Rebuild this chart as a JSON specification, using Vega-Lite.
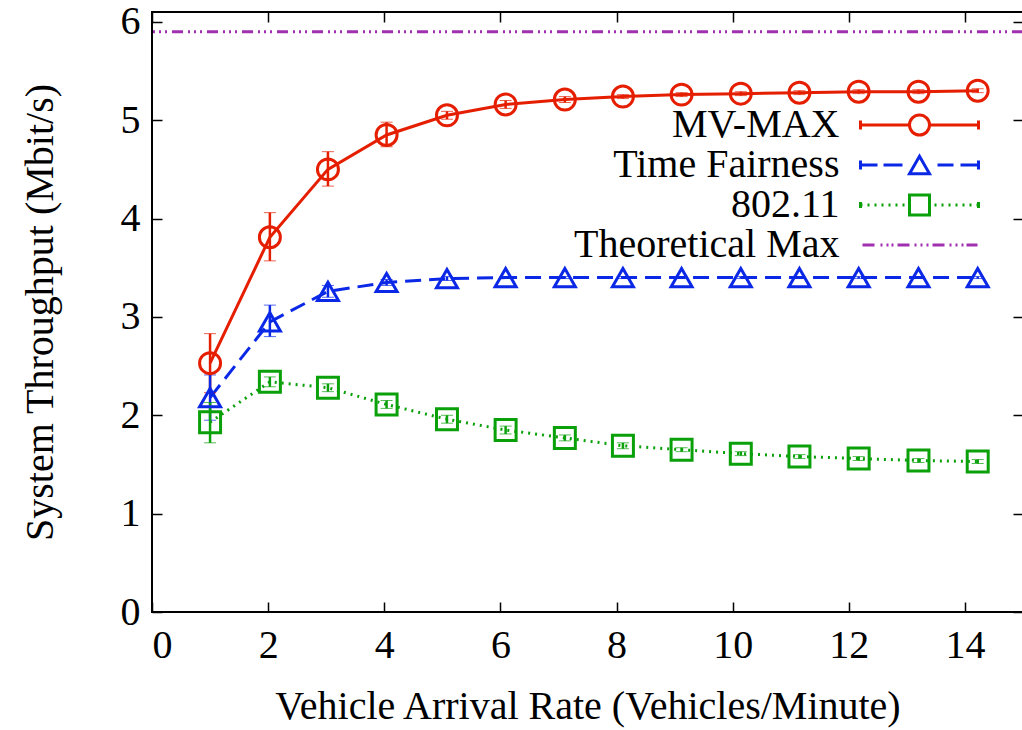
{
  "$schema": "https://vega.github.io/schema/vega-lite/v6.json",
  "width": 871,
  "height": 600,
  "autosize": "none",
  "padding": {"left": 152, "top": 12, "right": 0, "bottom": 118},
  "background": "white",
  "config": {
    "font": "Liberation Serif, Times New Roman, DejaVu Serif, serif",
    "view": {"stroke": "black", "strokeWidth": 2},
    "axis": {
      "domain": false,
      "grid": false,
      "ticks": true,
      "tickSize": -10,
      "tickColor": "black",
      "tickWidth": 1.5,
      "labelFont": "Liberation Serif, Times New Roman, DejaVu Serif, serif",
      "titleFont": "Liberation Serif, Times New Roman, DejaVu Serif, serif",
      "labelFontSize": 40,
      "labelColor": "black",
      "titleFontSize": 40,
      "titleFontWeight": "normal",
      "titleColor": "black"
    },
    "legend": {
      "labelFont": "Liberation Serif, Times New Roman, DejaVu Serif, serif"
    }
  },
  "datasets": {
    "curves": [
      {"series": "MV-MAX", "x": 1.0, "y": 2.53, "lo": 2.23, "hi": 2.83},
      {"series": "MV-MAX", "x": 2.03, "y": 3.81, "lo": 3.57, "hi": 4.06},
      {"series": "MV-MAX", "x": 3.03, "y": 4.5, "lo": 4.33, "hi": 4.68},
      {"series": "MV-MAX", "x": 4.04, "y": 4.85, "lo": 4.73, "hi": 4.98},
      {"series": "MV-MAX", "x": 5.08, "y": 5.05, "lo": 5.01, "hi": 5.09},
      {"series": "MV-MAX", "x": 6.09, "y": 5.16, "lo": 5.12, "hi": 5.2},
      {"series": "MV-MAX", "x": 7.11, "y": 5.21, "lo": 5.18, "hi": 5.24},
      {"series": "MV-MAX", "x": 8.11, "y": 5.24, "lo": 5.22, "hi": 5.26},
      {"series": "MV-MAX", "x": 9.12, "y": 5.26, "lo": 5.24, "hi": 5.28},
      {"series": "MV-MAX", "x": 10.14, "y": 5.27, "lo": 5.25, "hi": 5.29},
      {"series": "MV-MAX", "x": 11.15, "y": 5.28, "lo": 5.26, "hi": 5.3},
      {"series": "MV-MAX", "x": 12.17, "y": 5.29, "lo": 5.27, "hi": 5.31},
      {"series": "MV-MAX", "x": 13.2, "y": 5.29, "lo": 5.27, "hi": 5.31},
      {"series": "MV-MAX", "x": 14.22, "y": 5.3, "lo": 5.28, "hi": 5.32},
      {"series": "Time Fairness", "x": 1.0, "y": 2.18, "lo": 1.95, "hi": 2.41},
      {"series": "Time Fairness", "x": 2.03, "y": 2.95, "lo": 2.8, "hi": 3.12},
      {"series": "Time Fairness", "x": 3.03, "y": 3.26, "lo": 3.2, "hi": 3.32},
      {"series": "Time Fairness", "x": 4.04, "y": 3.35, "lo": 3.32, "hi": 3.38},
      {"series": "Time Fairness", "x": 5.08, "y": 3.39, "lo": 3.37, "hi": 3.41},
      {"series": "Time Fairness", "x": 6.09, "y": 3.4, "lo": 3.39, "hi": 3.41},
      {"series": "Time Fairness", "x": 7.11, "y": 3.4, "lo": 3.39, "hi": 3.41},
      {"series": "Time Fairness", "x": 8.11, "y": 3.4, "lo": 3.39, "hi": 3.41},
      {"series": "Time Fairness", "x": 9.12, "y": 3.4, "lo": 3.39, "hi": 3.41},
      {"series": "Time Fairness", "x": 10.14, "y": 3.4, "lo": 3.39, "hi": 3.41},
      {"series": "Time Fairness", "x": 11.15, "y": 3.4, "lo": 3.39, "hi": 3.41},
      {"series": "Time Fairness", "x": 12.17, "y": 3.4, "lo": 3.39, "hi": 3.41},
      {"series": "Time Fairness", "x": 13.2, "y": 3.4, "lo": 3.39, "hi": 3.41},
      {"series": "Time Fairness", "x": 14.22, "y": 3.4, "lo": 3.39, "hi": 3.41},
      {"series": "802.11", "x": 1.0, "y": 1.93, "lo": 1.72, "hi": 2.13},
      {"series": "802.11", "x": 2.03, "y": 2.34, "lo": 2.29, "hi": 2.39},
      {"series": "802.11", "x": 3.03, "y": 2.28, "lo": 2.24, "hi": 2.32},
      {"series": "802.11", "x": 4.04, "y": 2.11, "lo": 2.07, "hi": 2.15},
      {"series": "802.11", "x": 5.08, "y": 1.96, "lo": 1.92, "hi": 2.0},
      {"series": "802.11", "x": 6.09, "y": 1.85, "lo": 1.81, "hi": 1.89},
      {"series": "802.11", "x": 7.11, "y": 1.77, "lo": 1.74, "hi": 1.8},
      {"series": "802.11", "x": 8.11, "y": 1.69, "lo": 1.66, "hi": 1.72},
      {"series": "802.11", "x": 9.12, "y": 1.65, "lo": 1.63, "hi": 1.67},
      {"series": "802.11", "x": 10.14, "y": 1.61, "lo": 1.59, "hi": 1.63},
      {"series": "802.11", "x": 11.15, "y": 1.58, "lo": 1.56, "hi": 1.6},
      {"series": "802.11", "x": 12.17, "y": 1.56, "lo": 1.54, "hi": 1.58},
      {"series": "802.11", "x": 13.2, "y": 1.54, "lo": 1.52, "hi": 1.56},
      {"series": "802.11", "x": 14.22, "y": 1.53, "lo": 1.51, "hi": 1.55}
    ],
    "maxline": [
      {"series": "Theoretical Max", "y": 5.9}
    ]
  },
  "layer": [
    {
      "data": {"name": "curves"},
      "transform": [{"filter": "datum.series === 'MV-MAX'"}],
      "mark": {"type": "line", "strokeWidth": 3},
      "encoding": {
        "x": {
          "field": "x", "type": "quantitative",
          "scale": {"domain": [0, 15], "nice": false, "zero": false},
          "axis": {"title": "Vehicle Arrival Rate (Vehicles/Minute)", "values": [0, 2, 4, 6, 8, 10, 12, 14], "labelPadding": 23, "titlePadding": 21}
        },
        "y": {
          "field": "y", "type": "quantitative",
          "scale": {"domain": [0, 6.1], "nice": false},
          "axis": {"title": "System Throughput (Mbit/s)", "values": [0, 1, 2, 3, 4, 5, 6], "labelPadding": 22, "titlePadding": 60}
        },
        "color": {
          "field": "series", "type": "nominal",
          "scale": {"domain": ["MV-MAX", "Time Fairness", "802.11", "Theoretical Max"], "range": ["#e51e00", "#0a28e6", "#0aa00a", "#a030b0"]},
          "legend": {
            "orient": "none", "legendX": 747.5, "legendY": 93, "title": null, "padding": 0, "rowPadding": -1.3,
            "symbolSize": 400, "symbolStrokeWidth": 3, "symbolFillColor": "transparent", "labelAlign": "right", "labelOffset": -100,
            "labelFontSize": 40, "labelColor": "black", "labelLimit": 500,
            "encode": {
              "symbols": {
                "update": {
                  "shape": {"signal": "datum.value === 'MV-MAX' ? 'M-5.9,0H-1M1,0H5.9M-5.9,-0.45V0.45M5.9,-0.45V0.45M-1,0A1,1,0,1,0,1,0A1,1,0,1,0,-1,0' : datum.value === 'Time Fairness' ? 'M-5.9,0H-4.2M-3.6,0H-1.7M1.8,0H3.4M4.1,0H5.9M-5.9,-0.45V0.45M5.9,-0.45V0.45M0,-0.87L-1,0.87L1,0.87Z' : datum.value === '802.11' ? 'M-5.9,0H-5.7M-5.2,0H-5M-4.5,0H-4.3M-3.8,0H-3.6M-3.1,0H-2.9M-2.4,0H-2.2M-1.7,0H-1.5M1.5,0H1.7M2.2,0H2.4M2.9,0H3.1M3.6,0H3.8M4.3,0H4.5M5,0H5.2M5.7,0H5.9M-5.9,-0.3V0.3M5.9,-0.3V0.3M-1,-1H1V1H-1Z' : 'M-5.7,0H-4.5M-3.9,0H-3.7M-3.3,0H-3.1M-2.8,0H-2.6M-2.2,0H-1M-0.5,0H-0.3M0.1,0H0.3M0.7,0H0.9M1.3,0H2.5M3,0H3.2M3.6,0H3.8M4.2,0H4.4M4.7,0H5.8'"},
                  "fill": {"value": "transparent"},
                  "fillOpacity": {"value": 0},
                  "strokeWidth": {"value": 3}
                }
              }
            }
          }
        }
      }
    },
    {
      "data": {"name": "curves"},
      "transform": [{"filter": "datum.series === 'Time Fairness'"}],
      "mark": {"type": "line", "strokeWidth": 3, "strokeDash": [16, 8]},
      "encoding": {
        "x": {"field": "x", "type": "quantitative", "axis": null},
        "y": {"field": "y", "type": "quantitative", "axis": null},
        "color": {"field": "series", "type": "nominal"}
      }
    },
    {
      "data": {"name": "curves"},
      "transform": [{"filter": "datum.series === '802.11'"}],
      "mark": {"type": "line", "strokeWidth": 3, "strokeDash": [2, 5]},
      "encoding": {
        "x": {"field": "x", "type": "quantitative", "axis": null},
        "y": {"field": "y", "type": "quantitative", "axis": null},
        "color": {"field": "series", "type": "nominal"}
      }
    },
    {
      "data": {"name": "maxline"},
      "mark": {"type": "rule", "strokeWidth": 3, "strokeDash": [11, 5, 2, 4, 2, 4, 2, 5]},
      "encoding": {
        "y": {"field": "y", "type": "quantitative", "axis": null},
        "color": {"field": "series", "type": "nominal"}
      }
    },
    {
      "data": {"name": "curves"},
      "mark": {"type": "errorbar", "ticks": {"size": 12, "strokeWidth": 2.5}, "rule": {"strokeWidth": 2.5}},
      "encoding": {
        "x": {"field": "x", "type": "quantitative", "axis": null},
        "y": {"field": "lo", "type": "quantitative", "axis": null},
        "y2": {"field": "hi"},
        "color": {"field": "series", "type": "nominal"}
      }
    },
    {
      "data": {"name": "curves"},
      "mark": {"type": "point", "filled": false, "strokeWidth": 3, "size": 440, "opacity": 1},
      "encoding": {
        "x": {"field": "x", "type": "quantitative", "axis": null},
        "y": {"field": "y", "type": "quantitative", "axis": null},
        "color": {"field": "series", "type": "nominal"},
        "shape": {
          "field": "series", "type": "nominal",
          "scale": {"domain": ["MV-MAX", "Time Fairness", "802.11"], "range": ["circle", "triangle-up", "square"]},
          "legend": null
        }
      }
    },
    {
      "data": {"name": "curves"},
      "mark": {"type": "point", "opacity": 0},
      "encoding": {
        "x": {"field": "x", "type": "quantitative", "axis": {"orient": "top", "labels": false, "title": null, "values": [0, 2, 4, 6, 8, 10, 12, 14]}},
        "y": {"field": "y", "type": "quantitative", "axis": {"orient": "right", "labels": false, "title": null, "values": [0, 1, 2, 3, 4, 5, 6]}}
      }
    }
  ],
  "resolve": {"axis": {"x": "independent", "y": "independent"}}
}
